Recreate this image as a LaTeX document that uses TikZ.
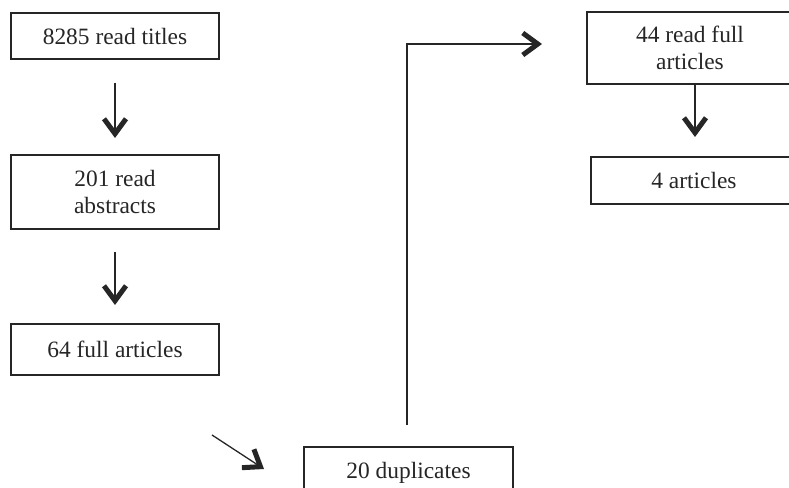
\documentclass[tikz,border=0pt]{standalone}
\usepackage{fontspec}
\setmainfont{Liberation Serif}
\usetikzlibrary{arrows.meta}
\begin{document}
\begin{tikzpicture}[x=1bp,y=-1bp,
  box/.style={draw=black!85, line width=1.3bp, align=center, inner sep=0pt,
    font=\fontsize{23.5}{26.5}\selectfont, text=black!85},
  conn/.style={draw=black!85, line width=1.3bp,
    -{Straight Barb[length=15bp, width=22bp, line width=5bp]}},
  plain/.style={draw=black!85, line width=1.3bp}]
\clip (0,0) rectangle (789,488);
\fill[white] (0,0) rectangle (789,488);
\node[box, minimum width=208bp, minimum height=46bp] (titles) at (115,36) {8285 read titles};
\node[box, minimum width=208bp, minimum height=74bp] (abstracts) at (115,192) {201 read\\abstracts};
\node[box, minimum width=208bp, minimum height=51bp] (full) at (115,349.5) {64 full articles};
\node[box, minimum width=206bp, minimum height=72bp] (readfull) at (690,48) {44 read full\\articles};
\node[box, minimum width=206bp, minimum height=47bp] (four) at (694,180.5) {4 articles};
\node[box, minimum width=209bp, minimum height=52bp] (dup) at (408.5,473) {20 duplicates};
\coordinate (a1s) at (115,83);
\coordinate (a1e) at (115,138);
\coordinate (a2s) at (115,252);
\coordinate (a2e) at (115,305);
\coordinate (a3s) at (695,84);
\coordinate (a3e) at (695,137);
\coordinate (els) at (407,425);
\coordinate (elc) at (407,44);
\coordinate (ele) at (542,44);
\coordinate (ds) at (212,435);
\coordinate (de) at (264,469);
\draw[conn] (a1s) -- (a1e);
\draw[conn] (a2s) -- (a2e);
\draw[conn] (a3s) -- (a3e);
\draw[conn] (els) -- (elc) -- (ele);
\draw[conn] (ds) -- (de);
\end{tikzpicture}
\end{document}
